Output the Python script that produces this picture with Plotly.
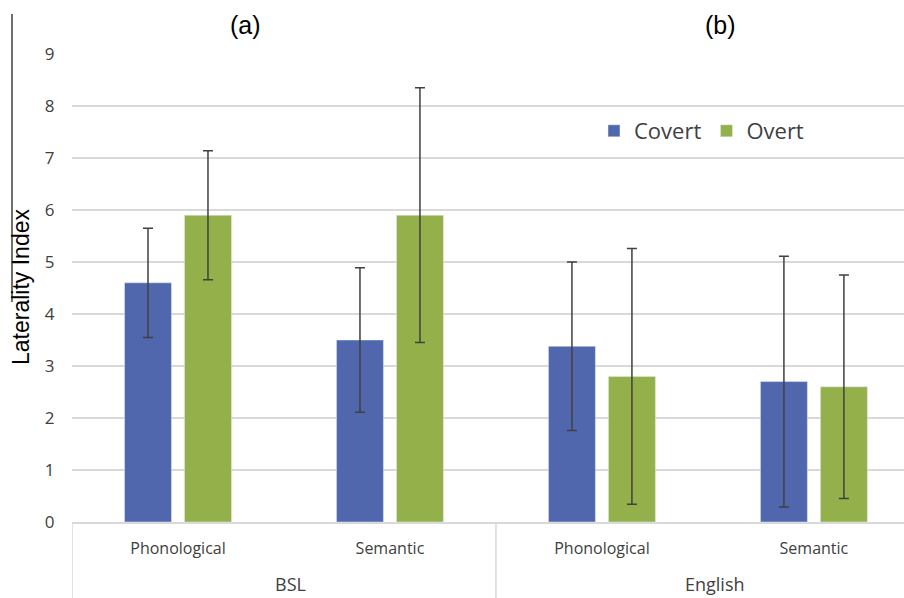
import plotly.graph_objects as go

# Laterality index by task and language, covert vs overt
groups = ["BSL", "English"]
tasks = ["Phonological", "Semantic", "Phonological", "Semantic"]
group_of_task = ["BSL", "BSL", "English", "English"]

covert = [4.6, 3.5, 3.38, 2.7]
covert_err = [1.05, 1.39, 1.62, 2.41]
overt = [5.9, 5.9, 2.8, 2.6]
overt_err = [1.24, 2.45, 2.46, 2.15]

panel_titles = ["(a)", "(b)"]
y_ticks = list(range(0, 10))

BLUE = "#5067AD"
GREEN = "#93B04B"
ERR = "#404040"
GRID = "#D9D9D9"

xpos = list(range(len(tasks)))

fig = go.Figure()
fig.add_trace(go.Bar(
    name="Covert", x=xpos, y=covert, marker_color=BLUE,
    error_y=dict(type="data", array=covert_err, color=ERR, thickness=1.5, width=5),
))
fig.add_trace(go.Bar(
    name="Overt", x=xpos, y=overt, marker_color=GREEN,
    error_y=dict(type="data", array=overt_err, color=ERR, thickness=1.5, width=5),
))

W, H = 904, 598
ML, MT, MB = 72, 54, 76
plot_h = H - MT - MB

def py(pix):
    # pixel row -> paper y
    return (H - MB - pix) / plot_h

def px(pix):
    return (pix - ML) / (W - ML)

fig.update_layout(
    width=W, height=H,
    margin=dict(l=ML, r=0, t=MT, b=MB, pad=0),
    paper_bgcolor="white", plot_bgcolor="white",
    barmode="group", bargap=0.434, bargroupgap=0.217,
    font=dict(family="Open Sans, sans-serif", color="#404040"),
    legend=dict(
        orientation="h", x=px(594), y=py(131), xanchor="left", yanchor="middle",
        font=dict(size=22, color="#404040"), bgcolor="rgba(0,0,0,0)",
        itemwidth=30, traceorder="normal",
    ),
    xaxis=dict(
        range=[-0.5, 3.425], tickvals=xpos, ticktext=tasks,
        tickfont=dict(size=16, color="#404040"),
        ticks="outside", ticklen=11, tickcolor="rgba(0,0,0,0)",
        showgrid=False, zeroline=False,
        showline=True, linecolor=GRID, linewidth=1.5,
    ),
    yaxis=dict(
        range=[0, 9], tickvals=y_ticks,
        tickfont=dict(size=17, color="#404040"),
        ticks="outside", ticklen=13, tickcolor="rgba(0,0,0,0)",
        showgrid=True, gridcolor=GRID, gridwidth=1.5,
        zeroline=False, showline=False,
    ),
)

# outer category labels
for i, g in enumerate(groups):
    idx = [k for k, gg in enumerate(group_of_task) if gg == g]
    xc = sum(idx) / len(idx)
    fig.add_annotation(x=xc, xref="x", y=py(584), yref="paper", text=g,
                       showarrow=False, font=dict(size=18, color="#404040"),
                       xanchor="center", yanchor="middle", xshift=7,
                       borderpad=0)

# dividers between outer categories
for xb in [-0.5, 1.5, 3.5]:
    fig.add_shape(type="line", xref="x", yref="paper", x0=xb, x1=xb,
                  y0=0, y1=py(H), line=dict(color=GRID, width=1.5))

# panel titles
for t, xp in zip(panel_titles, [245, 720]):
    fig.add_annotation(x=px(xp), xref="paper", y=py(25), yref="paper", text=t,
                       showarrow=False, font=dict(size=25, color="black",
                       family="Liberation Sans, Arial, sans-serif"),
                       xanchor="center", yanchor="middle")

# y-axis title
fig.add_annotation(x=px(21), xref="paper", y=py(287), yref="paper",
                   text="Laterality Index", textangle=-90, showarrow=False,
                   font=dict(size=23, color="black",
                             family="Liberation Sans, Arial, sans-serif"),
                   xanchor="center", yanchor="middle")

# left frame line
fig.add_shape(type="line", xref="paper", yref="paper", x0=px(12), x1=px(12),
              y0=py(14), y1=py(302), line=dict(color="#404040", width=1.5))

fig.write_html("out.html")
